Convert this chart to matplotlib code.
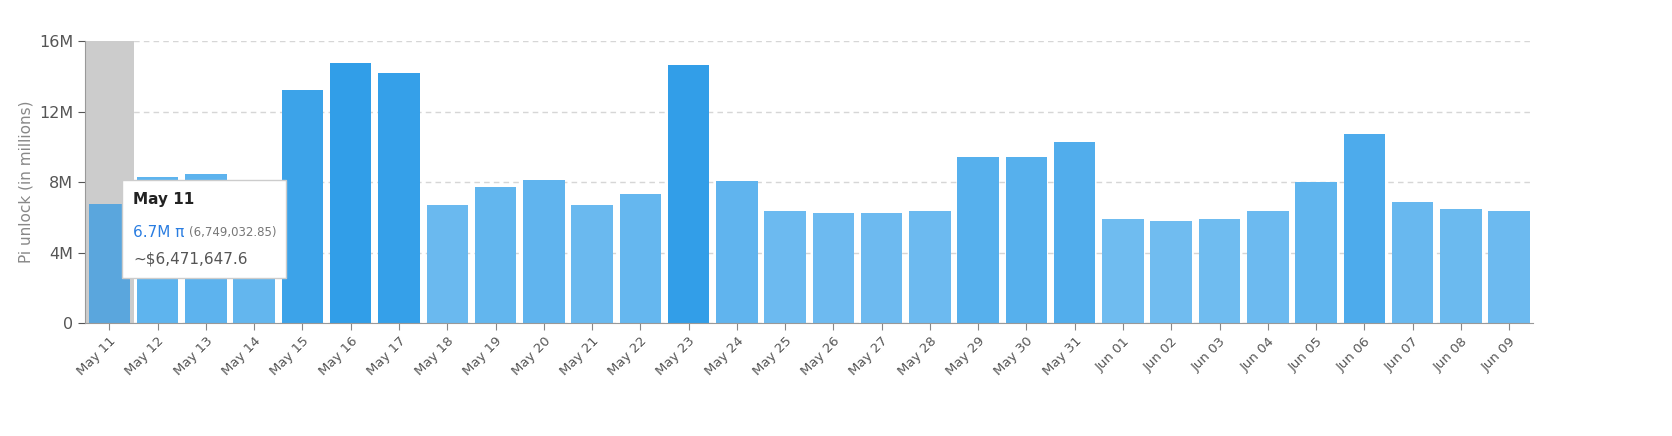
import matplotlib.pyplot as plt
import matplotlib.colors as mcolors
import numpy as np

days = ["May 11", "May 12", "May 13", "May 14", "May 15", "May 16", "May 17", "May 18",
        "May 19", "May 20", "May 21", "May 22", "May 23", "May 24", "May 25", "May 26",
        "May 27", "May 28", "May 29", "May 30", "May 31", "Jun 01", "Jun 02", "Jun 03",
        "Jun 04", "Jun 05", "Jun 06", "Jun 07", "Jun 08", "Jun 09"]
unlock = [6.749, 8.28, 8.45, 7.6, 13.2, 14.75, 14.18, 6.7, 7.72, 8.11, 6.7, 7.32, 14.64,
          8.06, 6.35, 6.24, 6.24, 6.35, 9.42, 9.42, 10.27, 5.9, 5.79, 5.9, 6.35, 8.0,
          10.72, 6.87, 6.47, 6.35]
hover = 0

fig = plt.figure(figsize=(16.72, 4.36), dpi=100)
ax = fig.add_axes([0.051, 0.259, 0.866, 0.647])

v = np.array(unlock)
t = (v - v.min()) / (v.max() - v.min())
light = np.array(mcolors.to_rgb("#70bcf0"))
dark = np.array(mcolors.to_rgb("#319ee8"))
colors = [tuple(light + (dark - light) * k) for k in t]
colors[hover] = "#5aa6dd"

x = np.arange(len(days))
ax.bar(hover, 16, width=1.0, color="#cccccc", zorder=1)
ax.bar(x, v, width=0.86, color=colors, zorder=2)

ax.set_xlim(-0.5, len(days) - 0.5)
ax.set_ylim(0, 16)
ax.set_yticks([0, 4, 8, 12, 16])
ax.set_yticklabels(["0", "4M", "8M", "12M", "16M"])
ax.yaxis.grid(True, linestyle=(0, (4, 3)), color="#d6d6d6", lw=1, zorder=0)
ax.set_axisbelow(True)
ax.set_xticks(x)
ax.set_xticklabels(days, rotation=45, ha="right", rotation_mode="anchor", fontsize=9.5, color="#555555")
ax.tick_params(axis="y", labelsize=11.5, colors="#555555", length=5)
ax.tick_params(axis="x", length=5, colors="#888888", labelcolor="#555555")
ax.set_ylabel("Pi unlock (in millions)", fontsize=11, color="#888888")
for s in ["top", "right"]:
    ax.spines[s].set_visible(False)
for s in ["left", "bottom"]:
    ax.spines[s].set_color("#999999")

# tooltip
fig.patches.append(plt.Rectangle((122 / 1672, 1 - 278 / 436), 164 / 1672, 98 / 436,
                                 transform=fig.transFigure, facecolor="white",
                                 edgecolor="#cccccc", lw=1, zorder=10))
fig.text(133 / 1672, 1 - 204 / 436, days[hover], fontsize=11, fontweight="bold", color="#222222", zorder=11)
fig.text(133 / 1672, 1 - 237 / 436, "6.7M π", fontsize=11, color="#2a7de1", zorder=11)
fig.text(189 / 1672, 1 - 236 / 436, "(6,749,032.85)", fontsize=8.5, color="#777777", zorder=11)
fig.text(133 / 1672, 1 - 263 / 436, "~$6,471,647.6", fontsize=11, color="#555555", zorder=11)

fig.savefig("out.png")
